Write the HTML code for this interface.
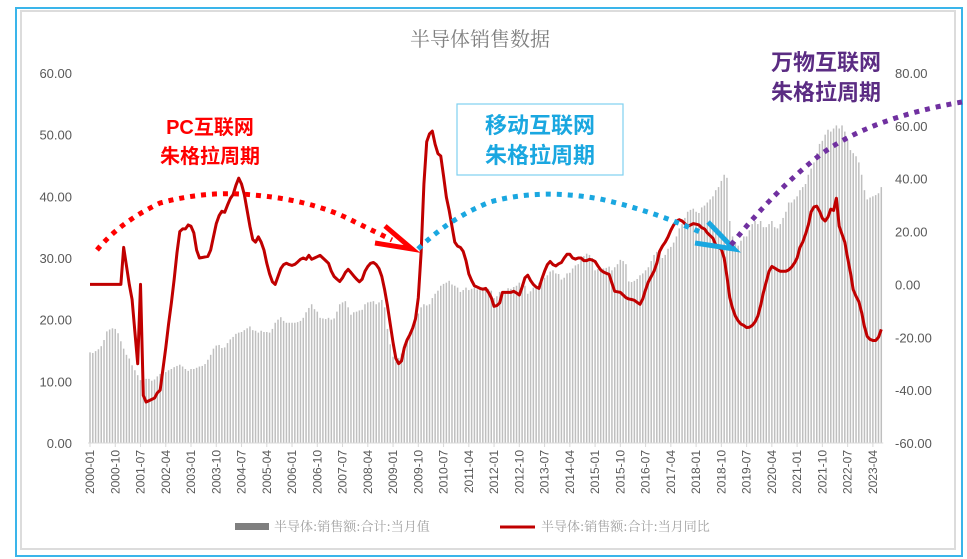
<!DOCTYPE html>
<html><head><meta charset="utf-8"><style>
html,body{margin:0;padding:0;background:#fff;}
svg{display:block;font-family:"Liberation Sans","Noto Sans CJK SC",sans-serif;}
</style></head><body>
<svg id="chart" width="967" height="559" viewBox="0 0 967 559" xmlns="http://www.w3.org/2000/svg">
<rect x="16" y="8" width="946" height="548" fill="#fff" stroke="#3ab5ea" stroke-width="2"/>
<rect x="21" y="11" width="934" height="538" fill="none" stroke="#dcdcdc" stroke-width="2"/>
<text x="480" y="46" text-anchor="middle" font-size="20" fill="#7f7f7f" font-family="'Noto Serif CJK SC',serif">半导体销售数据</text>
<g id="bars"></g>
<g id="axes"></g>
<polyline id="yoyLine" fill="none" stroke="#c00000" stroke-width="3" stroke-linejoin="round"/>
<!-- annotations -->
<g>
<text x="210" y="134" text-anchor="middle" font-size="20" font-weight="bold" fill="#ff0000">PC互联网</text>
<text x="210" y="163" text-anchor="middle" font-size="20" font-weight="bold" fill="#ff0000">朱格拉周期</text>
<path d="M97,250 Q120,222 160,203 Q200,192 240,194 Q310,198 355,222 L392,240" fill="none" stroke="#ff0000" stroke-width="5" stroke-dasharray="5,6"/>
<path d="M385,226 L412,249 L375,243" fill="none" stroke="#ff0000" stroke-width="5" stroke-linejoin="miter"/>
</g>
<g>
<rect x="457" y="104" width="166" height="71" fill="#fff" stroke="#7fd0f0" stroke-width="1.2"/>
<text x="540" y="133" text-anchor="middle" font-size="22" font-weight="bold" fill="#1aa7e0">移动互联网</text>
<text x="540" y="163" text-anchor="middle" font-size="22" font-weight="bold" fill="#1aa7e0">朱格拉周期</text>
<path d="M418,249 Q450,218 490,202 Q540,188 600,199 Q650,210 700,232" fill="none" stroke="#1aa7e0" stroke-width="5" stroke-dasharray="5,6"/>
<path d="M708,222 L734,249 L695,243" fill="none" stroke="#1aa7e0" stroke-width="5"/>
</g>
<g>
<text x="826" y="70" text-anchor="middle" font-size="22" font-weight="bold" fill="#5b2c83">万物互联网</text>
<text x="826" y="100" text-anchor="middle" font-size="22" font-weight="bold" fill="#5b2c83">朱格拉周期</text>
<path d="M731,245 Q775,190 820,155 Q870,118 962,102" fill="none" stroke="#7030a0" stroke-width="5" stroke-dasharray="5,6"/>
</g>
<g>
<rect x="235" y="523" width="34" height="7" fill="#7f7f7f"/>
<text x="274" y="531" font-size="13" fill="#a0a0a0" font-family="'Noto Serif CJK SC',serif">半导体:销售额:合计:当月值</text>
<line x1="500" y1="527" x2="535" y2="527" stroke="#c00000" stroke-width="3"/>
<text x="541" y="531" font-size="13" fill="#a0a0a0" font-family="'Noto Serif CJK SC',serif">半导体:销售额:合计:当月同比</text>
</g>
</svg>
<script>
const leftTicks = [0,10,20,30,40,50,60];
const rightTicks = [-60,-40,-20,0,20,40,60,80];
const startYear = 2000;
const salesValues = [
14.7,14.6,14.9,15.2,15.7,16.7,18.1,18.4,18.6,18.5,17.8,16.5,
15.3,14.3,13.7,12.6,11.8,11.0,10.2,10.3,10.4,10.4,10.1,10.3,
10.8,11.2,11.3,11.5,11.8,12.0,12.3,12.5,12.7,12.4,12.0,11.7,
12.0,12.0,12.2,12.4,12.5,12.8,13.5,14.3,15.3,15.8,15.9,15.4,
15.5,16.2,16.8,17.2,17.7,17.9,18.0,18.3,18.6,18.9,18.3,18.2,
17.9,18.2,18.0,18.0,17.9,18.5,19.5,20.0,20.4,19.8,19.5,19.5,
19.5,19.5,19.6,19.8,20.3,21.2,21.9,22.5,21.7,21.3,20.3,20.2,
20.1,20.3,20.0,20.2,21.3,22.5,22.8,23.0,22.0,20.8,21.2,21.3,
21.5,21.6,22.5,22.8,22.9,23.0,22.5,22.8,23.2,22.0,18.5,16.0,
14.0,13.2,13.8,14.5,16.0,17.0,18.0,18.8,19.8,21.0,22.0,22.5,
22.3,22.5,23.5,24.2,24.7,25.5,25.8,26.0,26.3,25.7,25.5,25.2,
24.5,24.8,25.2,24.8,25.0,25.2,24.9,24.8,25.2,25.3,25.0,24.7,
23.5,23.8,24.5,24.2,24.6,25.1,25.0,25.3,25.5,26.0,25.8,25.5,
24.2,24.6,25.2,25.5,26.0,26.5,26.8,27.2,27.8,28.0,27.5,27.4,
26.5,26.8,27.5,27.6,28.3,28.8,29.0,29.8,30.3,30.7,30.5,30.0,
28.0,28.2,28.3,28.3,28.4,28.6,28.0,28.5,29.0,29.7,29.5,29.0,
26.2,26.1,26.3,26.6,27.2,27.5,28.0,28.5,29.5,30.5,31.0,31.2,
30.0,30.5,31.5,31.8,32.5,33.5,34.8,35.5,36.5,37.5,37.8,38.0,
37.5,37.3,38.2,38.5,39.0,39.5,40.0,41.0,41.5,42.5,43.5,43.0,
36.0,33.5,32.5,32.0,32.8,33.5,33.5,34.5,35.5,36.0,35.5,36.0,
35.0,35.0,35.5,36.0,35.0,34.8,35.5,36.5,37.5,39.0,39.0,39.5,
40.0,41.0,41.5,42.0,43.5,44.5,45.5,47.0,48.5,49.0,50.0,50.8,
50.5,51.0,51.5,51.0,51.5,50.5,49.0,47.5,47.0,46.5,45.5,43.5,
41.0,39.5,39.8,40.0,40.2,40.5,41.5];
const yoyValues = [
0,0,0,0,0,0,0,0,0,0,0,0,
14,7,0,-5.7,-18,-30,0,-42,-44.5,-44,-43.5,-43,
-41,-40,-32,-24,-15,-7,2,12,20,21,21,22.5,
22,19.5,13,10,10.2,10.4,10.6,13,18,23,26,27.7,
27.3,30,32.5,34,37.5,40.2,38,34,28,22,17,16,
18,16,13,8,4,1,0,3,6,7.5,8,7.5,
7.2,7.6,8.5,9.5,10,9.5,11,9.5,10,10.5,11,10,
9,8,5,3,2,1.1,2.5,4.5,5.7,4.5,3.2,2,
1,2,5,6.8,8,8.3,7.5,6,3,-2,-8,-15,
-22,-28,-30,-29,-24,-21,-19,-16.5,-13,-5,12,38,
54,57,58,53,49.5,48.6,41,33,28,22,16,14.5,
14,12.5,9,4,1.5,-0.5,-1,-1.5,-1.8,-1.5,-3,-5,
-8.3,-8,-7,-3,-3,-3,-3,-2.6,-3.2,-4,-1,2.5,
3.5,1.5,0,-1,-1.5,2,5,7.5,8.7,7.5,7,7.8,
8.3,10,11.4,11.4,10,9.6,10,10,9,9,9.5,9.2,
8.7,7,5.5,4.7,4.2,3.8,0.5,-2.6,-2.8,-3,-4,-5,
-5.5,-5.7,-6,-6.8,-7.5,-5.5,-2,1,3,5,8,12.5,
14.5,16,18,20.5,22.5,24,24.5,24,23,22,22.5,23,
22.8,22.5,21.5,21,19.5,18.5,17.5,15,14,13.3,10,3,
-5,-9,-12,-13.8,-15,-15.5,-16.3,-16.2,-15.5,-14.2,-12,-8,
-3,1,5,6.8,6.2,5.5,5,5,5,5.5,6.5,8,
10,14,16,19,22.5,27.5,29.3,29.6,27.7,25,24,25.5,
28.5,28,32.6,22,19,16,10,4.5,-2,-4.5,-6.5,-10.6,
-16,-19.7,-20.8,-21.2,-21.2,-20,-17];

const NS = "http://www.w3.org/2000/svg";
const X0 = 90, DX = 2.806, Y0 = 443;
function xScale(i){ return X0 + i*DX; }
function yLeft(v){ return Y0 - v*(370/60); }
function yRight(v){ return Y0 - (v+60)*(370/140); }
function mk(tag, attrs, parent){
  const e = document.createElementNS(NS, tag);
  for (const k in attrs) e.setAttribute(k, attrs[k]);
  parent.appendChild(e);
  return e;
}
const barsG = document.getElementById('bars');
salesValues.forEach((v,i)=>{
  const r = mk('rect',{x:(xScale(i)-0.75).toFixed(2), y:yLeft(v).toFixed(2), width:1.5, height:(Y0-yLeft(v)).toFixed(2), fill:'#bfbfbf'}, barsG);
  
  
});
const pts = yoyValues.map((v,i)=> xScale(i).toFixed(2)+','+yRight(v).toFixed(2)).join(' ');
document.getElementById('yoyLine').setAttribute('points', pts);

const axesG = document.getElementById('axes');
const xAxis = mk('line',{x1:X0-2, y1:Y0, x2:xScale(salesValues.length-1)+2, y2:Y0, stroke:'#d9d9d9', 'stroke-width':1}, axesG);


leftTicks.forEach(v=>{
  const t = mk('text',{x:72, y:(yLeft(v)+5).toFixed(1), 'text-anchor':'end', 'font-size':13, fill:'#595959'}, axesG);
  t.textContent = v.toFixed(2);
  
  
});
rightTicks.forEach(v=>{
  const t = mk('text',{x:895, y:(yRight(v)+5).toFixed(1), 'text-anchor':'start', 'font-size':13, fill:'#595959'}, axesG);
  t.textContent = v.toFixed(2);
  
  
});
for (let i=0; i<salesValues.length; i+=9){
  const yr = startYear + Math.floor(i/12), mo = (i%12)+1;
  const x = xScale(i);
  const tk = mk('line',{x1:x, y1:Y0, x2:x, y2:Y0+4, stroke:'#d9d9d9'}, axesG);
  
  
  const t = mk('text',{x:0, y:0, 'text-anchor':'end', 'font-size':12, fill:'#595959', transform:'translate('+(x+4).toFixed(1)+','+(Y0+7)+') rotate(-90)'}, axesG);
  t.textContent = yr + '-' + (mo<10?'0':'') + mo;
  
  
}
</script>
</body></html>
